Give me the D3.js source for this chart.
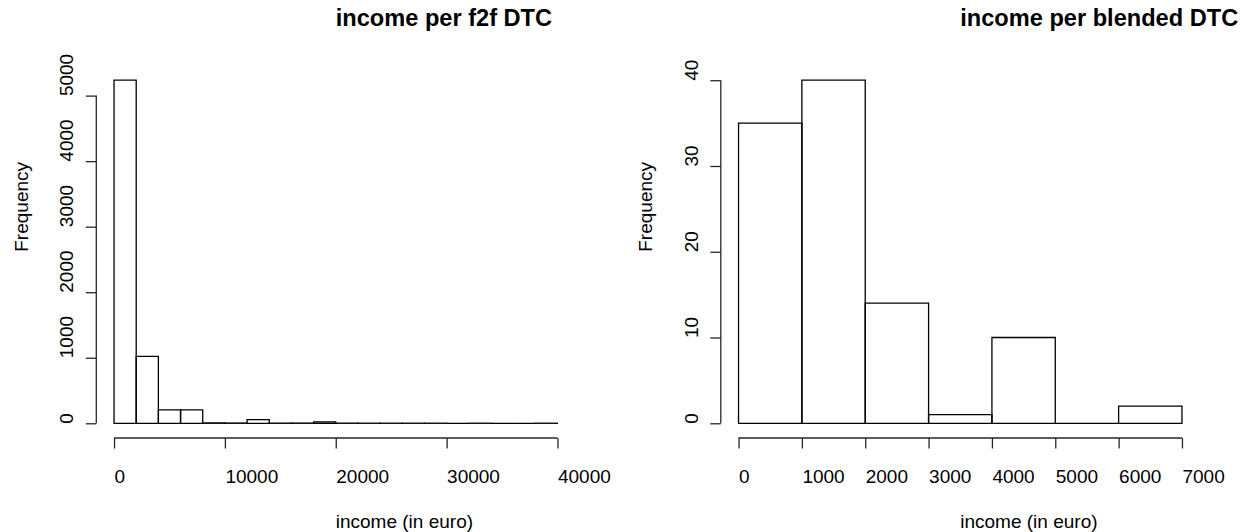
<!DOCTYPE html>
<html>
<head>
<meta charset="utf-8">
<script src="https://cdn.jsdelivr.net/npm/d3@7"></script>
<style>
  html, body { margin: 0; padding: 0; background: #fff; }
  svg { display: block; }
  text { font-family: "Liberation Sans", Arial, Helvetica, sans-serif; fill: #000; }
</style>
</head>
<body>
<svg id="chart" width="1250" height="532"></svg>
<script>
// Histogram of income per face-to-face DTC: bins of 2000 euro from 0 to 40000
const f2fBreaks = [0, 2000, 4000, 6000, 8000, 10000, 12000, 14000, 16000, 18000, 20000,
                   22000, 24000, 26000, 28000, 30000, 32000, 34000, 36000, 38000, 40000];
const f2fCounts = [5235, 1020, 205, 205, 6, 4, 55, 2, 3, 20, 2, 1, 1, 1, 1, 0, 1, 0, 0, 1];
const f2fXTicks = [0, 10000, 20000, 30000, 40000];
const f2fYTicks = [0, 1000, 2000, 3000, 4000, 5000];

// Histogram of income per blended DTC: bins of 1000 euro from 0 to 7000
const blendedBreaks = [0, 1000, 2000, 3000, 4000, 5000, 6000, 7000];
const blendedCounts = [35, 40, 14, 1, 10, 0, 2];
const blendedXTicks = [0, 1000, 2000, 3000, 4000, 5000, 6000, 7000];
const blendedYTicks = [0, 10, 20, 30, 40];

const panels = [
  { title: "income per f2f DTC", xlab: "income (in euro)", ylab: "Frequency",
    breaks: f2fBreaks, counts: f2fCounts, xTicks: f2fXTicks, yTicks: f2fYTicks },
  { title: "income per blended DTC", xlab: "income (in euro)", ylab: "Frequency",
    breaks: blendedBreaks, counts: blendedCounts, xTicks: blendedXTicks, yTicks: blendedYTicks }
];

const svg = d3.select("#chart");
const panelWidth = 624.5;
const plot = { left: 96.3, right: 575.2, top: 66.5, bottom: 437 };
const lineH = 23;            // one margin line
const fontSize = 19;
const titleSize = 23.6;
const tickLen = 10.5;
const axisColor = "#262626";

panels.forEach((p, i) => {
  const g = svg.append("g").attr("transform", `translate(${i * panelWidth},0)`);

  // R-style axis ranges: data range extended by 4% on each side
  const xLo = p.breaks[0], xHi = p.breaks[p.breaks.length - 1];
  const xPad = 0.04 * (xHi - xLo);
  const x = d3.scaleLinear().domain([xLo - xPad, xHi + xPad]).range([plot.left, plot.right]);
  const yMax = d3.max(p.counts);
  const y = d3.scaleLinear().domain([-0.04 * yMax, 1.04 * yMax]).range([plot.bottom, plot.top]);

  const bins = p.counts.map((c, k) => ({ x0: p.breaks[k], x1: p.breaks[k + 1], count: c }));

  // bars as outlined paths so empty bins still show as a line on the baseline
  g.append("g").selectAll("path")
    .data(bins)
    .join("path")
    .attr("d", d => {
      const path = d3.path();
      path.moveTo(x(d.x0), y(0));
      path.lineTo(x(d.x0), y(d.count));
      path.lineTo(x(d.x1), y(d.count));
      path.lineTo(x(d.x1), y(0));
      path.closePath();
      return path.toString();
    })
    .attr("fill", "none")
    .attr("stroke", "#000")
    .attr("stroke-width", 1.3);

  // x axis
  const xAxis = g.append("g")
    .attr("transform", `translate(0,${plot.bottom + 1})`)
    .call(d3.axisBottom(x).tickValues(p.xTicks).tickFormat(d3.format("d"))
      .tickSize(tickLen).tickSizeOuter(0));
  xAxis.select(".domain").remove();
  xAxis.append("line")
    .attr("x1", x(p.xTicks[0])).attr("x2", x(p.xTicks[p.xTicks.length - 1]))
    .attr("stroke", axisColor).attr("stroke-width", 1.3);
  xAxis.selectAll(".tick line").attr("stroke", axisColor).attr("stroke-width", 1.3);
  xAxis.selectAll(".tick text")
    .attr("y", 2 * lineH - 1.5)
    .attr("dy", null)
    .attr("text-anchor", "start")
    .attr("font-family", null)
    .style("font-size", fontSize + "px");

  // y axis
  const yAxis = g.append("g")
    .attr("transform", `translate(${plot.left},0)`)
    .call(d3.axisLeft(y).tickValues(p.yTicks).tickFormat(d3.format("d"))
      .tickSize(tickLen).tickSizeOuter(0));
  yAxis.select(".domain").remove();
  yAxis.append("line")
    .attr("y1", y(p.yTicks[0])).attr("y2", y(p.yTicks[p.yTicks.length - 1]))
    .attr("stroke", axisColor).attr("stroke-width", 1.3);
  yAxis.selectAll(".tick line").attr("stroke", axisColor).attr("stroke-width", 1.3);
  yAxis.selectAll(".tick text")
    .attr("x", null)
    .attr("dy", null)
    .attr("text-anchor", "start")
    .attr("font-family", null)
    .attr("transform", `translate(${-lineH - 0.2},0) rotate(-90)`)
    .style("font-size", fontSize + "px");

  g.selectAll(".tick text").attr("fill", "#000");

  // titles and axis labels
  const cx = (plot.left + plot.right) / 2;
  const cy = (plot.top + plot.bottom) / 2;

  g.append("text")
    .attr("x", cx).attr("y", 26)
    .attr("text-anchor", "start")
    .style("font-size", titleSize + "px")
    .style("font-weight", "bold")
    .text(p.title);

  g.append("text")
    .attr("x", cx).attr("y", 528)
    .attr("text-anchor", "start")
    .style("font-size", fontSize + "px")
    .text(p.xlab);

  g.append("text")
    .attr("transform", `translate(${plot.left - 3 * lineH + 0.5},${cy}) rotate(-90)`)
    .attr("text-anchor", "start")
    .style("font-size", fontSize + "px")
    .text(p.ylab);
});
</script>
</body>
</html>
